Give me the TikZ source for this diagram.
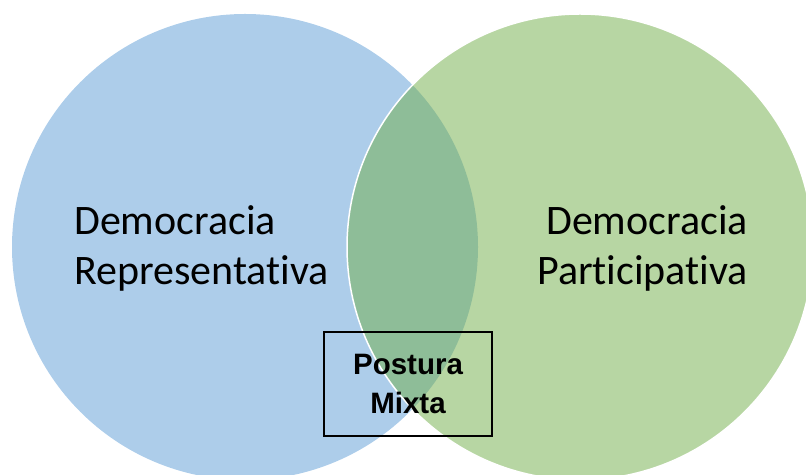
\documentclass[tikz,border=0pt]{standalone}
\usepackage{fontspec}
\setmainfont{Carlito}[Ligatures={NoCommon}]
\newfontfamily\boxfont{Liberation Sans}
\definecolor{blueC}{HTML}{5B9BD5}
\definecolor{greenC}{HTML}{70AD47}
\begin{document}
\begin{tikzpicture}[x=1pt,y=1pt,
  circlab/.style={inner sep=0pt, font=\fontsize{42}{50}\selectfont, text=black},
  mixbox/.style={draw=black, line width=1.5pt, minimum width=168pt, minimum height=104pt, inner sep=0pt, align=center, font=\boxfont\bfseries\fontsize{29.5}{39}\selectfont}
]
\useasboundingbox (0,0) rectangle (806,474);
\fill[blueC, fill opacity=0.5] (245,227) circle (233);
\fill[greenC, fill opacity=0.5] (580,227) circle (233);
\draw[white, line width=1.5pt] (580,227) circle (233);
\node[circlab, align=left, anchor=west] (rep) at (74,226) {Democracia\\Representativa};
\node[circlab, align=right, anchor=east] (par) at (748,226) {Democracia\\Participativa};
\node[mixbox] (mix) at (408,90) {Postura\\Mixta};
\end{tikzpicture}
\end{document}
